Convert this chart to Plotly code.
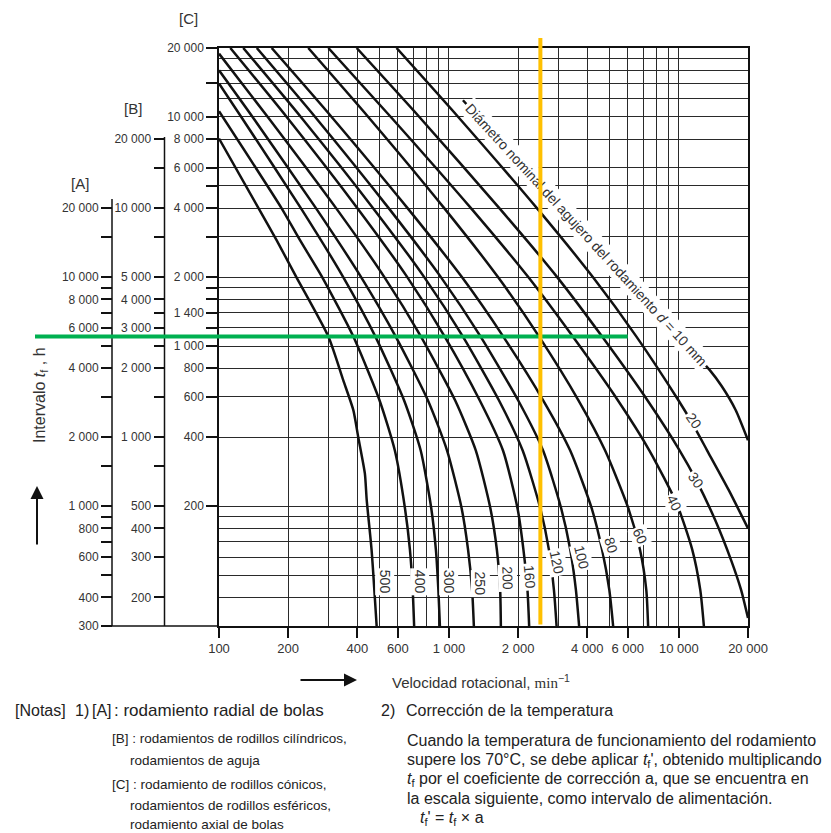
import math
import plotly.graph_objects as go

# ---------------- data ----------------
speed_ticks = [100, 200, 400, 600, 1000, 2000, 4000, 6000, 10000, 20000]
speed_tick_text = ["100", "200", "400", "600", "1 000", "2 000", "4 000", "6 000", "10 000", "20 000"]
speed_grid_extra = [300, 500, 700, 800, 900, 3000, 5000, 7000, 8000, 9000]

c_ticks = [20000, 14000, 10000, 8000, 6000, 5000, 4000, 3000, 2000, 1800, 1600, 1400, 1200, 1000, 800, 600, 400, 200]
c_tick_text = ["20 000", "", "10 000", "8 000", "6 000", "", "4 000", "", "2 000", "", "", "1 400", "", "1 000", "800", "600", "400", "200"]
c_grid_extra = [18000, 16000, 12000, 180, 160, 140, 120, 100, 80]

a_ticks = [20000, 15000, 10000, 9000, 8000, 7000, 6000, 5000, 4000, 3000, 2000, 1500, 1000, 900, 800, 700, 600, 500, 400, 300]
a_tick_text = ["20 000", "", "10 000", "", "8 000", "", "6 000", "", "4 000", "", "2 000", "", "1 000", "", "800", "", "600", "", "400", "300"]

b_ticks = [20000, 15000, 10000, 7500, 5000, 4000, 3500, 3000, 2500, 2000, 1500, 1000, 750, 500, 400, 300, 200]
b_tick_text = ["20 000", "", "10 000", "", "5 000", "4 000", "", "3 000", "", "2 000", "", "1 000", "", "500", "400", "300", "200"]

# curves: speed n (min^-1) vs interval tf (scale [C], h)
n_d500 = [100, 148.5, 178, 217, 299, 347, 384, 403, 431, 439, 461, 485]
tf_d500 = [8050, 4000, 2898, 2000, 1100, 710, 525, 402, 278, 213, 129, 60]
n_d400 = [100, 187, 225, 281, 384, 499, 582, 644, 677, 696, 706]
tf_d400 = [10590, 4000, 2898, 2000, 1100, 580, 350, 196, 129, 86, 60]
n_d300 = [100, 125, 227, 347, 479, 638, 754, 838, 878, 900, 914]
tf_d300 = [13990, 10000, 4000, 2000, 1100, 580, 350, 196, 129, 86, 60]
n_d250 = [100, 140, 264, 415, 587, 810, 982, 1136, 1212, 1262, 1284]
tf_d250 = [15990, 10000, 4000, 2000, 1100, 580, 350, 196, 129, 86, 60]
n_d200 = [100, 163, 323, 524, 756, 1064, 1310, 1515, 1617, 1671, 1683]
tf_d200 = [18900, 10000, 4000, 2000, 1100, 580, 350, 196, 129, 86, 60]
n_d160 = [112, 197, 400, 659, 959, 1361, 1719, 1988, 2110, 2197, 2234]
tf_d160 = [20000, 10000, 4000, 2000, 1100, 580, 350, 196, 129, 86, 60]
n_d120 = [127.5, 227, 468, 781, 1151, 1650, 2094, 2497, 2724, 2864, 2940]
tf_d120 = [20000, 10000, 4000, 2000, 1100, 580, 350, 196, 129, 86, 60]
n_d100 = [146, 262, 547, 923, 1374, 2000, 2568, 3078, 3373, 3569, 3685]
tf_d100 = [20000, 10000, 4000, 2000, 1100, 580, 350, 196, 129, 86, 60]
n_d80 = [169.5, 309, 661, 1139, 1724, 2570, 3370, 4178, 4639, 4988, 5181]
tf_d80 = [20000, 10000, 4000, 2000, 1100, 580, 350, 196, 129, 86, 60]
n_d60 = [244.5, 446, 954, 1635, 2468, 3660, 4781, 6030, 6781, 7223, 7354]
tf_d60 = [20000, 10000, 4000, 2000, 1100, 580, 350, 196, 129, 86, 60]
n_d40 = [299, 559, 1247, 2214, 3459, 5429, 7451, 9781, 11449, 12404, 12857]
tf_d40 = [20000, 10000, 4000, 2000, 1100, 580, 350, 206, 129, 86, 60]
n_d30 = [397, 744, 1657, 2958, 4639, 7303, 10090, 11906, 14395, 16898, 18676, 20000]
tf_d30 = [20000, 10000, 4000, 2000, 1100, 580, 350, 260, 174, 116, 86, 65]
n_d20 = [592, 1098, 2414, 4228, 6543, 9961, 11310, 13290, 16500, 20000]
tf_d20 = [20000, 10000, 4000, 2000, 1100, 580, 470, 350, 235, 160]
n_d10 = [1151, 2140, 3981, 7480, 13640, 15380, 17690, 20000]
tf_d10 = [11830, 5984, 3032, 1517, 785, 668, 525, 388]

curve_labels = ["500", "400", "300", "250", "200", "160", "120", "100", "80", "60", "40", "30", "20"]
label_n = [527, 748, 1000, 1364, 1793, 2250, 2940, 3776, 5062, 6768, 9541, 11857, 11656]
label_tf = [93.6, 93.6, 93.6, 92, 96.8, 98.4, 114, 120, 135, 148, 206, 260, 472]
label_angle = [90, 90, 90, 90, 88, 85, 78, 76, 72, 66, 64, 55, 55]

d10_label_n = 3961
d10_label_tf = 3046

marked_speed = 2500
marked_interval = 1100
marked_speed_end = 6000

# ---------------- figure ----------------
W, H = 831, 833
ML, MR, MT, MB = 0, 83, 48, 207
PW, PH = W - ML - MR, H - MT - MB
X0 = 219 / PW

XMIN, XMAX = 100, 20000
CMIN, CMAX = 60, 20000
SPAN_C = math.log10(CMAX) - math.log10(CMIN)


def paper_x(n):
    return X0 + (math.log10(n) - math.log10(XMIN)) / (math.log10(XMAX) - math.log10(XMIN)) * (1 - X0)


def paper_y(c):
    return (math.log10(c) - math.log10(CMIN)) / SPAN_C


def px(x):
    return (x - ML) / PW


def py(y):
    return (MT + PH - y) / PH


fig = go.Figure()

series = [
    (n_d500, tf_d500), (n_d400, tf_d400), (n_d300, tf_d300), (n_d250, tf_d250),
    (n_d200, tf_d200), (n_d160, tf_d160), (n_d120, tf_d120), (n_d100, tf_d100),
    (n_d80, tf_d80), (n_d60, tf_d60), (n_d40, tf_d40), (n_d30, tf_d30),
    (n_d20, tf_d20), (n_d10, tf_d10),
]
for n, tf in series:
    fig.add_trace(go.Scatter(x=n, y=tf, mode="lines",
                             line=dict(color="#111", width=2.5, shape="spline", smoothing=0.6),
                             hoverinfo="skip", showlegend=False))

tick_font = dict(family="Liberation Sans, Arial", size=12, color="#333")
grid_col = "#2a2a2a"

fig.update_layout(
    template="none",
    width=W, height=H, autosize=False,
    margin=dict(l=ML, r=MR, t=MT, b=MB, pad=0, autoexpand=False),
    paper_bgcolor="white", plot_bgcolor="white",
    showlegend=False,
    xaxis=dict(type="log", domain=[X0, 1], range=[math.log10(XMIN), math.log10(XMAX)], automargin=False,
               tickvals=speed_ticks, ticktext=speed_tick_text, ticks="outside", ticklen=10, tickwidth=1.5,
               tickcolor="#111", tickfont=dict(family="Liberation Sans, Arial", size=13, color="#333"),
               showline=True, linecolor="#111", linewidth=1.5, mirror=True,
               showgrid=True, gridcolor=grid_col, gridwidth=1.2, zeroline=False,
               minor=dict(tickvals=speed_grid_extra, showgrid=True, gridcolor=grid_col, gridwidth=1.2, ticks="")),
    yaxis=dict(type="log", domain=[0, 1], range=[math.log10(CMIN), math.log10(CMAX)], automargin=False,
               tickvals=c_ticks, ticktext=c_tick_text, ticks="outside", ticklen=11, tickwidth=2,
               tickcolor="#111", tickfont=tick_font,
               showline=True, linecolor="#111", linewidth=1.5, mirror=True,
               showgrid=True, gridcolor=grid_col, gridwidth=1.2, zeroline=False,
               minor=dict(tickvals=c_grid_extra, showgrid=True, gridcolor=grid_col, gridwidth=1.2, ticks="")),
    yaxis2=dict(type="log", overlaying="y", anchor="free", side="left", position=px(112), automargin=False,
                range=[math.log10(5 * CMIN), math.log10(5 * CMAX)],
                tickvals=a_ticks, ticktext=a_tick_text, ticks="outside", ticklen=11, tickwidth=2,
                tickcolor="#111", tickfont=tick_font, showline=False, showgrid=False, zeroline=False),
    yaxis3=dict(type="log", overlaying="y", anchor="free", side="left", position=px(164.5), automargin=False,
                range=[math.log10(2.5 * CMIN), math.log10(2.5 * CMAX)],
                tickvals=b_ticks, ticktext=b_tick_text, ticks="outside", ticklen=11, tickwidth=2,
                tickcolor="#111", tickfont=tick_font, showline=False, showgrid=False, zeroline=False),
)
fig.add_trace(go.Scatter(x=[XMIN], y=[5 * CMIN], yaxis="y2", mode="markers", marker=dict(opacity=0),
                         hoverinfo="skip", showlegend=False))
fig.add_trace(go.Scatter(x=[XMIN], y=[2.5 * CMIN], yaxis="y3", mode="markers", marker=dict(opacity=0),
                         hoverinfo="skip", showlegend=False))

shapes = []
shapes.append(dict(type="line", xref="paper", yref="paper", x0=px(112), x1=px(112), y0=0, y1=py(199),
                   line=dict(color="#111", width=1.5)))
shapes.append(dict(type="line", xref="paper", yref="paper", x0=px(164.5), x1=px(164.5), y0=0, y1=py(137),
                   line=dict(color="#111", width=1.5)))
shapes.append(dict(type="line", xref="paper", yref="paper", x0=px(112), x1=X0, y0=0, y1=0,
                   line=dict(color="#111", width=1.5)))
shapes.append(dict(type="line", xref="paper", yref="paper", x0=px(35), x1=paper_x(marked_speed_end),
                   y0=paper_y(marked_interval), y1=paper_y(marked_interval), line=dict(color="#00B050", width=4)))
fig.update_layout(shapes=shapes)

ann = []
lab_font = dict(family="Liberation Sans, Arial", size=14, color="#333")
for t, n, tf, a in zip(curve_labels, label_n, label_tf, label_angle):
    ann.append(dict(x=math.log10(n), y=math.log10(tf), xref="x", yref="y", text=t, showarrow=False,
                    xanchor="center", yanchor="middle",
                    textangle=a, font=lab_font, bgcolor="white", borderpad=1))
ann.append(dict(x=math.log10(d10_label_n), y=math.log10(d10_label_tf), xref="x", yref="y",
                text="Diámetro nominal del agujero del rodamiento <i>d</i> = 10 mm", showarrow=False,
                xanchor="center", yanchor="middle",
                textangle=47.5, font=dict(family="Liberation Sans, Arial", size=14, color="#333"),
                bgcolor="white", borderpad=2))

# orange speed marker drawn as an annotation line so it sits above the rotated label
orange_len = PH * (1 - py(38))
ann.append(dict(x=paper_x(marked_speed), y=py(38), xref="paper", yref="paper", ax=0, ay=626 - 38,
                text="", showarrow=True, arrowhead=0, arrowwidth=4, arrowcolor="#FFC000",
                standoff=0, startstandoff=0, xanchor="center", yanchor="middle"))

hdr_font = dict(family="Liberation Sans, Arial", size=15, color="#333")
for txt, x, y in [("[C]", 188, 18), ("[B]", 133, 108), ("[A]", 80, 183)]:
    ann.append(dict(x=px(x), y=py(y), xref="paper", yref="paper", text=txt, showarrow=False,
                    xanchor="center", yanchor="middle", font=hdr_font))

ann.append(dict(x=px(40), y=py(395), xref="paper", yref="paper", xanchor="center", yanchor="middle",
                text="Intervalo <i>t</i><sub>f</sub> , h", showarrow=False, textangle=-90,
                font=dict(family="Liberation Sans, Arial", size=16, color="#333")))
ann.append(dict(x=px(37), y=py(486), xref="paper", yref="paper", ax=0, ay=60, text="", showarrow=True,
                xanchor="center", yanchor="middle",
                arrowhead=2, arrowsize=1.3, arrowwidth=2, arrowcolor="#111"))
ann.append(dict(x=px(357), y=py(680), xref="paper", yref="paper", ax=-58, ay=0, text="", showarrow=True,
                xanchor="center", yanchor="middle",
                arrowhead=2, arrowsize=1.3, arrowwidth=2, arrowcolor="#111"))
ann.append(dict(x=px(390), y=py(681), xref="paper", yref="paper", xanchor="left", yanchor="middle",
                text="Velocidad rotacional, <span style='font-family:Liberation Serif'>min</span><sup>−1</sup>",
                showarrow=False, font=dict(family="Liberation Sans, Arial", size=15, color="#333")))

note_font = dict(family="Liberation Sans, Arial", size=16, color="#222")
big_font = dict(family="Liberation Sans, Arial", size=17, color="#222")
narrow_font = dict(family="Liberation Sans, Arial", size=13.5, color="#222")
notes = [
    ("[Notas]", 13, 710, note_font),
    ("1)", 73, 710, note_font),
    ("[A]", 90, 710, note_font),
    (": rodamiento radial de bolas", 112, 710, big_font),
    ("[B] : rodamientos de rodillos cilíndricos,", 110, 738, narrow_font),
    ("rodamientos de aguja", 128, 760, narrow_font),
    ("[C] : rodamiento de rodillos cónicos,", 110, 785, narrow_font),
    ("rodamientos de rodillos esféricos,", 128, 805, narrow_font),
    ("rodamiento axial de bolas", 128, 824, narrow_font),
    ("2)", 379, 710, note_font),
    ("Corrección de la temperatura", 404, 710, note_font),
    ("Cuando la temperatura de funcionamiento del rodamiento", 405, 740, note_font),
    ("supere los 70°C, se debe aplicar <i>t</i><sub>f</sub>', obtenido multiplicando", 405, 760, note_font),
    ("<i>t</i><sub>f</sub> por el coeficiente de corrección a, que se encuentra en", 405, 779, note_font),
    ("la escala siguiente, como intervalo de alimentación.", 405, 798, note_font),
    ("<i>t</i><sub>f</sub>' = <i>t</i><sub>f</sub> × a", 418, 818, note_font),
]
for txt, x, y, f in notes:
    ann.append(dict(x=px(x), y=py(y), xref="paper", yref="paper", xanchor="left", yanchor="middle",
                    text=txt, showarrow=False, font=f))

fig.update_layout(annotations=ann)
fig.write_html("out.html")
